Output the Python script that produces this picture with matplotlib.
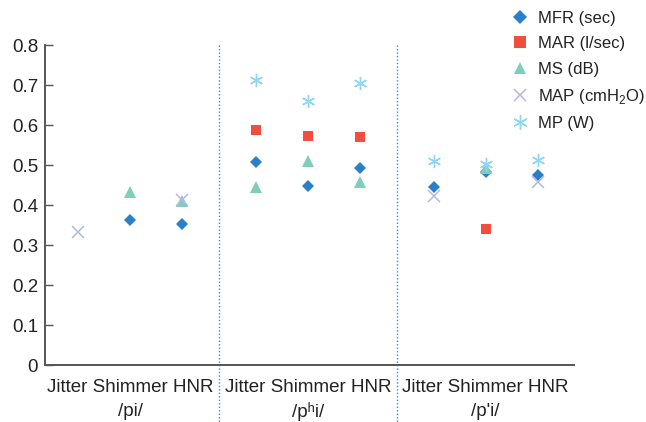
import matplotlib
matplotlib.use('Agg')
import matplotlib.pyplot as plt
import matplotlib.transforms as mtransforms

plt.rcParams['font.family'] = ['Liberation Sans', 'DejaVu Sans']
plt.rcParams['mathtext.fontset'] = 'custom'
plt.rcParams['mathtext.rm'] = 'Liberation Sans'

# categories
groups = ['/pi/', '/p\u02b0i/', "/p'i/"]
params = ['Jitter', 'Shimmer', 'HNR']

# series values per group, in order Jitter, Shimmer, HNR (None = no point)
mfr = [[None, 0.362, 0.352], [0.507, 0.447, 0.494], [0.444, 0.482, 0.475]]
mar = [[None, None, None], [0.588, 0.573, 0.570], [None, 0.340, None]]
ms = [[None, 0.432, 0.410], [0.446, 0.510, 0.458], [None, 0.492, None]]
map_ = [[0.333, None, 0.412], [None, None, None], [0.423, None, 0.458]]
mp = [[None, None, None], [0.712, 0.661, 0.706], [0.511, 0.502, 0.512]]

series = [
    ('MFR (sec)', mfr, dict(marker='D', color='#2a7fc9', ms=6.6, mew=0)),
    ('MAR (l/sec)', mar, dict(marker='s', color='#f04e3e', ms=7.2, mew=0)),
    ('MS (dB)', ms, dict(marker='^', color='#7fcdbb', ms=8.5, mew=0)),
    ('MAP (cmH$_2$O)', map_, dict(marker='x', color='#b4b9e0', ms=8.5, mew=1.1)),
    ('MP (W)', mp, dict(marker=(6, 2, 0), color='#8fd6f4', ms=9.5, mew=1.0)),
]

group_step = 3.42  # spacing between group starts, in category units


def xpos(g, i):
    return g * group_step + i


fig = plt.figure(figsize=(6.46, 4.22), dpi=100)
ax = fig.add_axes([0.0697, 0.135, 0.8188, 0.758])

for label, vals, style in series:
    xs, ys = [], []
    for g in range(len(groups)):
        for i in range(len(params)):
            if vals[g][i] is not None:
                xs.append(xpos(g, i))
                ys.append(vals[g][i])
    ax.plot(xs, ys, linestyle='none', label=label, **style)

ax.set_xlim(-0.635, 9.54)
ax.set_ylim(0, 0.8)
ax.set_yticks([0, 0.1, 0.2, 0.3, 0.4, 0.5, 0.6, 0.7, 0.8])
ax.set_yticklabels(['0', '0.1', '0.2', '0.3', '0.4', '0.5', '0.6', '0.7', '0.8'])
ax.tick_params(axis='y', direction='in', length=6, width=1, color='#555555',
               labelsize=13.5, pad=5, labelcolor='#222222')
ax.set_xticks([])
for side in ['top', 'right']:
    ax.spines[side].set_visible(False)
for side in ['left', 'bottom']:
    ax.spines[side].set_color('#555555')
    ax.spines[side].set_linewidth(1.4)

# group dividers
trans = mtransforms.blended_transform_factory(ax.transData, ax.transAxes)
for g in range(1, len(groups)):
    xd = (xpos(g - 1, 2) + xpos(g, 0)) / 2
    ax.plot([xd, xd], [1.0, -0.18], transform=trans, clip_on=False,
            color='#3a8fd0', linestyle=(0, (1, 1.5)), linewidth=1)

# category labels
for g, name in enumerate(groups):
    xc = xpos(g, 1)
    ax.text(xc, -0.069, ' '.join(params), transform=trans, ha='center',
            va='center', fontsize=13.5, color='#222222')
    ax.text(xc, -0.144, name, transform=trans, ha='center', va='center',
            fontsize=13.5, color='#222222')

fig.legend(loc='upper left', bbox_to_anchor=(0.779, 0.99), frameon=False,
           fontsize=12, handletextpad=0.48, labelspacing=0.62,
           handlelength=1.2, borderaxespad=0.0, labelcolor='#222222',
           markerscale=1.1)

fig.savefig('out.png', dpi=100)
